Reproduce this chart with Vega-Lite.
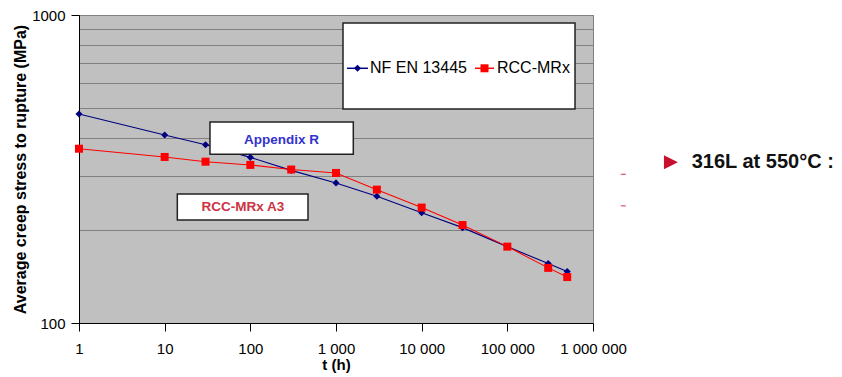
{
  "$schema": "https://vega.github.io/schema/vega-lite/v6.json",
  "width": 514,
  "height": 308,
  "autosize": {"type": "none"},
  "padding": {"left": 79, "top": 15, "right": 249, "bottom": 54},
  "background": "white",
  "config": {
    "font": "Liberation Sans",
    "view": {"fill": "#C0C0C0", "stroke": "#808080", "strokeWidth": 1}
  },
  "datasets": {
    "curves": [
      {"series": "NF EN 13445", "t": 1, "s": 477},
      {"series": "NF EN 13445", "t": 10, "s": 408},
      {"series": "NF EN 13445", "t": 30, "s": 379},
      {"series": "NF EN 13445", "t": 100, "s": 345},
      {"series": "NF EN 13445", "t": 300, "s": 313},
      {"series": "NF EN 13445", "t": 1000, "s": 285},
      {"series": "NF EN 13445", "t": 3000, "s": 258},
      {"series": "NF EN 13445", "t": 10000, "s": 228},
      {"series": "NF EN 13445", "t": 30000, "s": 204},
      {"series": "NF EN 13445", "t": 100000, "s": 177},
      {"series": "NF EN 13445", "t": 300000, "s": 156},
      {"series": "NF EN 13445", "t": 500000, "s": 147},
      {"series": "RCC-MRx", "t": 1, "s": 368},
      {"series": "RCC-MRx", "t": 10, "s": 346},
      {"series": "RCC-MRx", "t": 30, "s": 334},
      {"series": "RCC-MRx", "t": 100, "s": 326},
      {"series": "RCC-MRx", "t": 300, "s": 315},
      {"series": "RCC-MRx", "t": 1000, "s": 307},
      {"series": "RCC-MRx", "t": 3000, "s": 271},
      {"series": "RCC-MRx", "t": 10000, "s": 237},
      {"series": "RCC-MRx", "t": 30000, "s": 208},
      {"series": "RCC-MRx", "t": 100000, "s": 177},
      {"series": "RCC-MRx", "t": 300000, "s": 151},
      {"series": "RCC-MRx", "t": 500000, "s": 141}
    ],
    "boxes": [
      {"t": 1207, "t2": 616600, "s": 942, "s2": 495},
      {"t": 33.8, "t2": 1592, "s": 449.4, "s2": 353},
      {"t": 14.05, "t2": 471, "s": 262.3, "s2": 216}
    ],
    "key": [
      {"series": "NF EN 13445", "t": 1344, "t2": 2363, "tm": 1782, "tl": 2494, "s": 671.4},
      {"series": "RCC-MRx", "t": 41940, "t2": 69900, "tm": 54140, "tl": 75760, "s": 671.4}
    ]
  },
  "layer": [
    {
      "data": {"name": "curves"},
      "mark": {"type": "line", "strokeWidth": 1.1},
      "encoding": {
        "x": {
          "field": "t", "type": "quantitative",
          "scale": {"type": "log", "domain": [1, 1000000], "nice": false},
          "axis": {
            "values": [1, 10, 100, 1000, 10000, 100000, 1000000],
            "labelExpr": "replace(format(datum.value, ','), regexp(',', 'g'), ' ')",
            "grid": false,
            "domainColor": "black", "domainWidth": 1,
            "tickColor": "black", "tickSize": 8, "tickWidth": 1,
            "labelFontSize": 15, "labelColor": "black", "labelPadding": 10,
            "labelFlush": false, "labelOverlap": false,
            "title": "t (h)", "titleFontSize": 15, "titleFontWeight": "bold",
            "titleColor": "black", "titlePadding": 1
          }
        },
        "y": {
          "field": "s", "type": "quantitative",
          "scale": {"type": "log", "domain": [100, 1000], "nice": false},
          "axis": {
            "values": [100, 200, 300, 400, 500, 600, 700, 800, 900, 1000],
            "labelExpr": "datum.value == 100 || datum.value == 1000 ? format(datum.value, 'd') : ''",
            "grid": true, "gridColor": "#808080", "gridWidth": 1,
            "domainColor": "black", "domainWidth": 1,
            "tickColor": "black", "tickSize": 8, "tickWidth": 1,
            "tickOpacity": {"condition": {"test": "datum.value == 100 || datum.value == 1000", "value": 1}, "value": 0},
            "labelFontSize": 15, "labelColor": "black", "labelPadding": 6,
            "labelFlush": false, "labelOverlap": false,
            "title": "Average creep stress to rupture (MPa)", "titleFontSize": 16,
            "titleFontWeight": "bold", "titleColor": "black", "titlePadding": 3
          }
        },
        "color": {
          "field": "series", "type": "nominal",
          "scale": {"domain": ["NF EN 13445", "RCC-MRx"], "range": ["#000080", "#FF0000"]},
          "legend": null
        }
      }
    },
    {
      "data": {"name": "boxes"},
      "mark": {"type": "rect", "fill": "white", "stroke": "#222222", "strokeWidth": 1.5},
      "encoding": {
        "x": {"field": "t", "type": "quantitative"},
        "x2": {"field": "t2"},
        "y": {"field": "s", "type": "quantitative"},
        "y2": {"field": "s2"}
      }
    },
    {
      "data": {"name": "key"},
      "mark": {"type": "rule", "strokeWidth": 1.5},
      "encoding": {
        "x": {"field": "t", "type": "quantitative"},
        "x2": {"field": "t2"},
        "y": {"field": "s", "type": "quantitative"},
        "color": {"field": "series", "type": "nominal", "legend": null}
      }
    },
    {
      "data": {"name": "key"},
      "mark": {"type": "text", "font": "Liberation Sans", "fontSize": 16, "color": "black", "align": "left", "baseline": "middle"},
      "encoding": {
        "x": {"field": "tl", "type": "quantitative"},
        "y": {"field": "s", "type": "quantitative"},
        "text": {"field": "series"}
      }
    },
    {
      "data": {"values": [{"t": 231, "s": 393, "label": "Appendix R"}]},
      "mark": {"type": "text", "font": "Liberation Sans", "fontSize": 13.5, "fontWeight": "bold", "color": "#3333CC", "align": "center", "baseline": "middle"},
      "encoding": {
        "x": {"field": "t", "type": "quantitative"},
        "y": {"field": "s", "type": "quantitative"},
        "text": {"field": "label"}
      }
    },
    {
      "data": {"values": [{"t": 82.1, "s": 238, "label": "RCC-MRx A3"}]},
      "mark": {"type": "text", "font": "Liberation Sans", "fontSize": 13.5, "fontWeight": "bold", "color": "#CC3344", "align": "center", "baseline": "middle"},
      "encoding": {
        "x": {"field": "t", "type": "quantitative"},
        "y": {"field": "s", "type": "quantitative"},
        "text": {"field": "label"}
      }
    },
    {
      "data": {"name": "curves"},
      "mark": {"type": "point", "filled": true, "opacity": 1},
      "encoding": {
        "x": {"field": "t", "type": "quantitative"},
        "y": {"field": "s", "type": "quantitative"},
        "color": {"field": "series", "type": "nominal", "legend": null},
        "shape": {"field": "series", "type": "nominal", "scale": {"domain": ["NF EN 13445", "RCC-MRx"], "range": ["diamond", "square"]}, "legend": null},
        "size": {"field": "series", "type": "nominal", "scale": {"domain": ["NF EN 13445", "RCC-MRx"], "range": [50, 64]}, "legend": null}
      }
    },
    {
      "data": {"name": "key"},
      "mark": {"type": "point", "filled": true, "opacity": 1},
      "encoding": {
        "x": {"field": "tm", "type": "quantitative"},
        "y": {"field": "s", "type": "quantitative"},
        "color": {"field": "series", "type": "nominal", "legend": null},
        "shape": {"field": "series", "type": "nominal", "legend": null},
        "size": {"field": "series", "type": "nominal", "legend": null}
      }
    },
    {
      "data": {"values": [{"t": 8130000, "s": 332.5}]},
      "mark": {"type": "point", "filled": true, "opacity": 1, "shape": "M-1,-1L1,0L-1,1Z", "size": 196, "color": "#C8102E"},
      "encoding": {
        "x": {"field": "t", "type": "quantitative"},
        "y": {"field": "s", "type": "quantitative"}
      }
    },
    {
      "data": {"values": [{"t": 14190000, "s": 332.5, "label": "316L at 550°C :"}]},
      "mark": {"type": "text", "font": "Liberation Sans", "fontSize": 20, "fontWeight": "bold", "color": "#111111", "align": "left", "baseline": "middle"},
      "encoding": {
        "x": {"field": "t", "type": "quantitative"},
        "y": {"field": "s", "type": "quantitative"},
        "text": {"field": "label"}
      }
    },
    {
      "data": {"values": [{"t": 2260000, "s": 304}, {"t": 2260000, "s": 240}]},
      "mark": {"type": "point", "filled": false, "opacity": 1, "shape": "stroke", "size": 25, "stroke": "#E0304A", "strokeWidth": 1},
      "encoding": {
        "x": {"field": "t", "type": "quantitative"},
        "y": {"field": "s", "type": "quantitative"}
      }
    }
  ]
}
